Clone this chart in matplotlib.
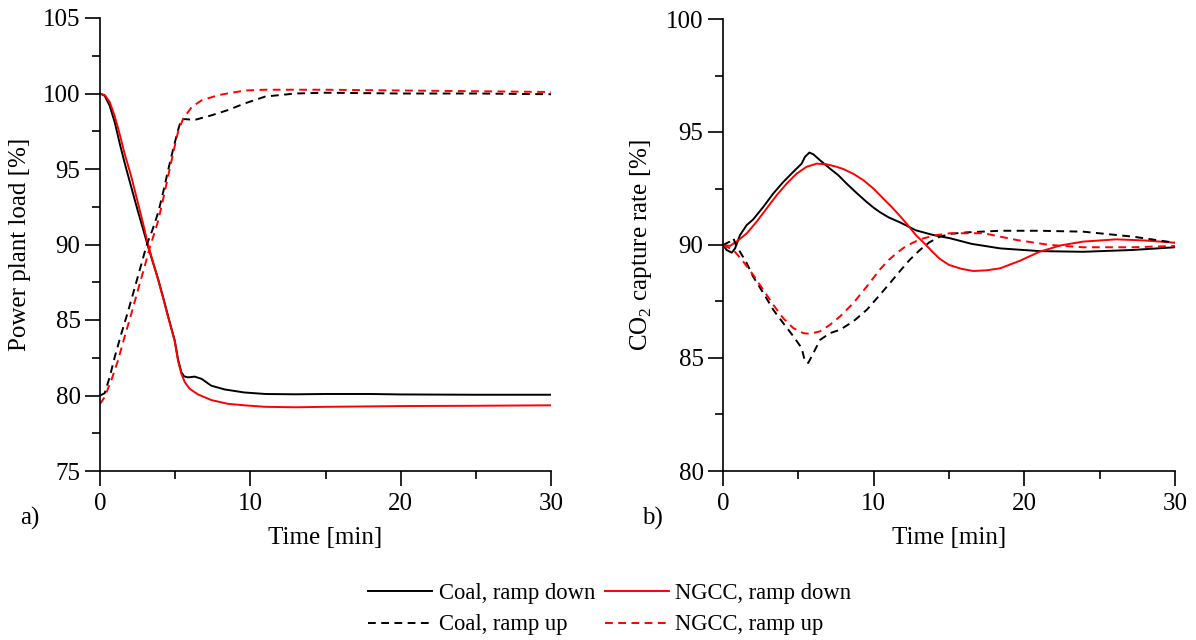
import matplotlib
matplotlib.use("Agg")
import matplotlib.pyplot as plt
from matplotlib.ticker import MultipleLocator

plt.rcParams['font.family'] = ['Liberation Serif', 'DejaVu Serif']
plt.rcParams['mathtext.fontset'] = 'custom'
plt.rcParams['mathtext.rm'] = 'Liberation Serif'

# ---- Panel a) power plant load ----
t_coal_down = [0, 0.31, 0.64, 0.98, 1.31, 1.64, 2.08, 2.55, 2.9, 3.2, 3.54, 3.87, 4.2, 4.53, 4.97, 5.19, 5.41, 5.59, 5.85, 6.3, 6.76, 7.4, 8.3, 9.6, 11, 13, 15, 18, 20, 25, 30]
load_coal_down = [100, 99.85, 99.2, 98.1, 96.7, 95.4, 93.8, 92.1, 90.9, 89.85, 88.75, 87.7, 86.5, 85.25, 83.65, 82.4, 81.55, 81.27, 81.2, 81.25, 81.1, 80.65, 80.4, 80.2, 80.1, 80.08, 80.1, 80.1, 80.07, 80.05, 80.05]

t_ngcc_down = [0, 0.31, 0.64, 0.98, 1.31, 1.64, 2.08, 2.55, 2.9, 3.2, 3.54, 3.87, 4.2, 4.53, 4.97, 5.19, 5.41, 5.63, 5.96, 6.52, 7.4, 8.5, 9.6, 11, 13, 15, 20, 25, 30]
load_ngcc_down = [100, 99.9, 99.45, 98.5, 97.3, 96.0, 94.5, 92.65, 91.25, 89.95, 88.8, 87.65, 86.45, 85.2, 83.6, 82.3, 81.45, 80.9, 80.45, 80.07, 79.7, 79.45, 79.35, 79.25, 79.22, 79.25, 79.3, 79.32, 79.35]

t_coal_up = [0, 0.31, 0.64, 0.98, 1.42, 1.86, 2.3, 2.75, 3.1, 3.5, 3.88, 4.2, 4.55, 4.9, 5.2, 5.41, 5.7, 6.3, 7.4, 8.5, 9.65, 11, 13, 15, 20, 25, 30]
load_coal_up = [80.0, 80.15, 81.2, 82.55, 84.1, 85.55, 87.1, 88.7, 89.95, 91.0, 92.15, 93.45, 95.0, 96.45, 97.6, 98.3, 98.3, 98.25, 98.55, 98.9, 99.35, 99.8, 100.0, 100.05, 100.0, 100.0, 99.95]

t_ngcc_up = [0, 0.31, 0.75, 1.2, 1.64, 2.08, 2.53, 2.97, 3.3, 3.88, 4.2, 4.55, 4.9, 5.2, 5.54, 6.1, 6.76, 7.9, 9.65, 11, 13, 15, 20, 25, 30]
load_ngcc_up = [79.44, 79.9, 81.0, 82.33, 83.9, 85.4, 87.0, 88.55, 89.75, 91.6, 93.0, 94.6, 96.2, 97.5, 98.35, 99.1, 99.55, 99.9, 100.2, 100.25, 100.25, 100.25, 100.2, 100.15, 100.1]

# ---- Panel b) CO2 capture rate ----
t_cap_coal_down = [0, 0.24, 0.58, 0.8, 1.13, 1.57, 2.0, 2.68, 3.34, 4.0, 4.67, 5.22, 5.44, 5.73, 6.0, 6.44, 7.1, 7.65, 8.2, 8.87, 9.54, 10.0, 10.42, 11.0, 11.75, 12.8, 13.9, 15.06, 16.5, 18.4, 21.0, 23.9, 27.2, 30]
cap_coal_down = [90, 89.78, 89.66, 89.85, 90.44, 90.88, 91.13, 91.69, 92.28, 92.79, 93.24, 93.6, 93.9, 94.09, 94.01, 93.75, 93.38, 93.09, 92.72, 92.3, 91.9, 91.65, 91.45, 91.22, 91.0, 90.65, 90.45, 90.3, 90.05, 89.85, 89.73, 89.7, 89.78, 89.9]

t_cap_ngcc_down = [0, 0.46, 0.9, 1.57, 2.23, 2.9, 3.56, 4.23, 4.89, 5.55, 6.22, 6.88, 7.54, 7.99, 8.65, 9.31, 9.98, 10.6, 11.2, 11.75, 12.3, 12.8, 13.4, 13.9, 14.4, 15.0, 15.8, 16.6, 17.5, 18.4, 19.7, 21.0, 22.4, 23.9, 26.1, 28.0, 30]
cap_ngcc_down = [90, 89.96, 90.15, 90.51, 91.03, 91.62, 92.2, 92.72, 93.16, 93.46, 93.6, 93.57, 93.46, 93.36, 93.15, 92.87, 92.5, 92.08, 91.68, 91.28, 90.85, 90.44, 90.05, 89.7, 89.38, 89.12, 88.95, 88.85, 88.88, 88.97, 89.3, 89.7, 89.98, 90.15, 90.25, 90.2, 90.1]

t_cap_coal_up = [0, 0.45, 0.69, 0.9, 1.13, 1.57, 2.0, 2.68, 3.34, 4.0, 4.67, 5.22, 5.44, 5.66, 6.0, 6.44, 7.1, 7.77, 8.65, 9.54, 10.42, 11.1, 11.75, 12.4, 13.07, 13.7, 14.4, 15.2, 16.2, 18.4, 21.0, 23.9, 27.2, 30]
cap_coal_up = [90, 90.15, 90.3, 89.93, 89.7, 89.2, 88.6, 87.87, 87.13, 86.54, 85.96, 85.44, 84.85, 84.78, 85.22, 85.8, 86.1, 86.25, 86.62, 87.13, 87.8, 88.33, 88.85, 89.35, 89.78, 90.12, 90.37, 90.5, 90.56, 90.63, 90.63, 90.59, 90.37, 90.1]

t_cap_ngcc_up = [0, 0.69, 1.35, 2.0, 2.68, 3.34, 4.0, 4.67, 5.33, 5.77, 6.44, 7.1, 7.77, 8.65, 9.54, 10.42, 11.0, 11.6, 12.1, 12.6, 13.07, 14.0, 15.06, 17.3, 19.5, 21.7, 23.9, 27.2, 30]
cap_ngcc_up = [90, 89.78, 89.26, 88.68, 88.01, 87.35, 86.76, 86.32, 86.1, 86.07, 86.18, 86.47, 86.84, 87.43, 88.16, 88.92, 89.34, 89.68, 89.93, 90.1, 90.25, 90.42, 90.52, 90.52, 90.22, 90.0, 89.9, 89.9, 89.96]

labels = ["Coal, ramp down", "NGCC, ramp down", "Coal, ramp up", "NGCC, ramp up"]

fig = plt.figure(figsize=(11.96, 6.4), dpi=100)
axa = fig.add_axes([100/1196, 1-471/640, 451/1196, 453/640])
axb = fig.add_axes([723/1196, 1-471/640, 452/1196, 452/640])

lw = 1.4
dash = (0, (4, 2.8))
la, = axa.plot(t_coal_down, load_coal_down, color='black', lw=lw, label=labels[0])
lb, = axa.plot(t_ngcc_down, load_ngcc_down, color='red', lw=lw, label=labels[1])
lc, = axa.plot(t_coal_up, load_coal_up, color='black', lw=lw, ls=dash, label=labels[2])
ld, = axa.plot(t_ngcc_up, load_ngcc_up, color='red', lw=lw, ls=dash, label=labels[3])

axb.plot(t_cap_coal_down, cap_coal_down, color='black', lw=lw)
axb.plot(t_cap_ngcc_down, cap_ngcc_down, color='red', lw=lw)
axb.plot(t_cap_coal_up, cap_coal_up, color='black', lw=lw, ls=dash)
axb.plot(t_cap_ngcc_up, cap_ngcc_up, color='red', lw=lw, ls=dash)

fs = 18
for ax in (axa, axb):
    ax.spines['top'].set_visible(False)
    ax.spines['right'].set_visible(False)
    for s in ('left', 'bottom'):
        ax.spines[s].set_linewidth(1.2)
    ax.set_xlim(0, 30)
    ax.xaxis.set_major_locator(MultipleLocator(10))
    ax.xaxis.set_minor_locator(MultipleLocator(5))
    ax.yaxis.set_major_locator(MultipleLocator(5))
    ax.yaxis.set_minor_locator(MultipleLocator(2.5))
    ax.tick_params(which='major', direction='out', length=11, width=1.2, labelsize=fs)
    ax.tick_params(which='minor', direction='out', length=6, width=1.2)
    ax.tick_params(axis='y', which='major', pad=3)
    ax.tick_params(axis='x', which='major', pad=5)
    ax.set_xlabel("Time [min]", fontsize=fs)
    ax.xaxis.set_label_coords(0.5, -0.123)

axa.set_ylim(75, 105)
axb.set_ylim(80, 100)
axa.set_ylabel("Power plant load [%]", fontsize=fs)
axb.set_ylabel(r"CO$_\mathregular{2}$ capture rate [%]", fontsize=fs)
axa.yaxis.set_label_coords(-0.153, 0.5)
axb.yaxis.set_label_coords(-0.152, 0.5)

fig.text(30/1196, 1-518/640, "a)", fontsize=fs, ha='center', va='center')
fig.text(652/1196, 1-518/640, "b)", fontsize=fs, ha='center', va='center')

fig.legend([la, lc, lb, ld], [labels[0], labels[2], labels[1], labels[3]],
           loc='center', bbox_to_anchor=(610/1196, 1-609/640), ncol=2,
           frameon=False, fontsize=16.3, handlelength=2.8, handletextpad=0.3,
           columnspacing=0.45, labelspacing=0.48)

fig.savefig("out.png", dpi=100)
